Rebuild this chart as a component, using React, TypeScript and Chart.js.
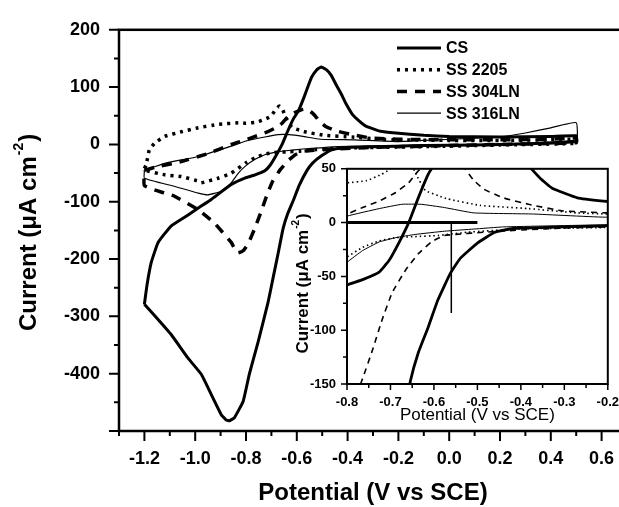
import { useEffect, useRef } from 'react';
import { Chart, registerables } from 'chart.js';
Chart.register(...registerables);

const FONT = "'Liberation Sans', Arial, Helvetica, sans-serif";

// ---- data (potential V vs SCE, current µA cm^-2), closed CV loops ----
const csLoop: [number, number][] = [
  [-1.2, -279], [-1.19, -246], [-1.173, -206], [-1.146, -171], [-1.094, -142], [-1.028, -123], [-0.988, -111],
  [-0.937, -96], [-0.858, -70], [-0.8, -58], [-0.764, -53], [-0.726, -46], [-0.703, -35], [-0.681, -19],
  [-0.658, 0], [-0.636, 23], [-0.613, 45], [-0.594, 58], [-0.571, 83], [-0.543, 116], [-0.522, 130],
  [-0.504, 135], [-0.485, 131], [-0.465, 121], [-0.445, 104], [-0.425, 88], [-0.405, 70], [-0.382, 53],
  [-0.355, 41], [-0.328, 32], [-0.27, 23], [-0.21, 20], [-0.1, 16], [0, 14], [0.2, 13], [0.4, 14], [0.5, 15],
  [0.5, 6], [0.3, 1], [0.1, -1], [-0.1, -2], [-0.21, -3], [-0.3, -4], [-0.418, -5.5], [-0.46, -9], [-0.5, -19],
  [-0.539, -33], [-0.562, -47], [-0.591, -72], [-0.613, -97], [-0.636, -121], [-0.654, -147], [-0.673, -189],
  [-0.693, -232], [-0.713, -275], [-0.752, -344], [-0.787, -401], [-0.811, -448], [-0.846, -477], [-0.865, -482],
  [-0.878, -481], [-0.898, -471], [-0.937, -436], [-0.976, -401], [-1.028, -373], [-1.094, -332], [-1.161, -298],
  [-1.2, -279],
];

const ss2205Loop: [number, number][] = [
  [-1.2, -42], [-1.193, -36], [-1.181, -10], [-1.16, 2], [-1.12, 14], [-1.055, 22], [-0.988, 29], [-0.91, 35],
  [-0.82, 38], [-0.8, 37], [-0.755, 39], [-0.72, 45], [-0.7, 50], [-0.685, 60], [-0.669, 67], [-0.655, 60],
  [-0.645, 48], [-0.62, 30], [-0.59, 25], [-0.568, 22], [-0.494, 16], [-0.382, 13], [-0.27, 9], [-0.2, 8],
  [0, 7], [0.2, 7], [0.4, 8], [0.5, 9],
  [0.5, 2], [0.2, -1], [0, -3], [-0.209, -4.6], [-0.411, -6], [-0.524, -9], [-0.591, -12], [-0.643, -13],
  [-0.688, -14], [-0.726, -17], [-0.764, -23], [-0.8, -32], [-0.858, -50], [-0.91, -59], [-0.976, -67],
  [-0.988, -64], [-1.055, -56], [-1.12, -53], [-1.2, -45], [-1.2, -42],
];

const ss304Loop: [number, number][] = [
  [-1.2, -45], [-1.16, -40], [-1.055, -30], [-0.95, -16], [-0.858, 0], [-0.8, 8], [-0.764, 14], [-0.726, 20],
  [-0.688, 28], [-0.658, 37], [-0.636, 48], [-0.61, 55], [-0.585, 60], [-0.563, 62], [-0.545, 57], [-0.53, 51],
  [-0.51, 40], [-0.485, 31], [-0.44, 23], [-0.382, 17], [-0.306, 11], [-0.2, 9], [0, 8], [0.2, 8], [0.4, 9], [0.5, 11],
  [0.5, 3], [0.2, 0], [0, -2], [-0.2, -4], [-0.3, -5], [-0.45, -8], [-0.576, -12], [-0.606, -18], [-0.636, -29],
  [-0.665, -44], [-0.696, -65], [-0.719, -90], [-0.741, -118], [-0.766, -147], [-0.79, -172], [-0.81, -185],
  [-0.831, -189], [-0.845, -182], [-0.858, -171], [-0.925, -137], [-0.988, -114], [-1.083, -90], [-1.12, -85],
  [-1.2, -72], [-1.2, -45],
];

const ss316Loop: [number, number][] = [
  [-1.2, -45], [-1.12, -33], [-0.988, -21], [-0.858, -3], [-0.8, 6], [-0.726, 13], [-0.674, 17], [-0.629, 17],
  [-0.576, 14], [-0.508, 9], [-0.373, 8], [-0.2, 5], [0, 9], [0.2, 13], [0.3, 20], [0.4, 29], [0.5, 38],
  [0.5, 4], [0.2, 0], [0, -1], [-0.2, -2], [-0.44, -4], [-0.508, -6], [-0.576, -8], [-0.643, -11], [-0.688, -14],
  [-0.726, -18], [-0.764, -26], [-0.8, -37], [-0.83, -50], [-0.86, -68], [-0.9, -82], [-0.95, -88], [-0.988, -85],
  [-1.083, -73], [-1.2, -59], [-1.2, -45],
];

// inset construction lines
const tafelHLine: [number, number][] = [[-0.8, 0], [-0.5, 0]];
const tafelVLine: [number, number][] = [[-0.56, 0], [-0.56, -84]];

const seriesLabels = ['CS', 'SS 2205', 'SS 304LN', 'SS 316LN'];

const mainXTicks = [-1.2, -1.0, -0.8, -0.6, -0.4, -0.2, 0.0, 0.2, 0.4, 0.6];
const mainYTicks = [-400, -300, -200, -100, 0, 100, 200];
const insetXTicks = [-0.8, -0.7, -0.6, -0.5, -0.4, -0.3, -0.2];
const insetYTicks = [-150, -100, -50, 0, 50];

const toXY = (a: [number, number][]) => a.map(([x, y]) => ({ x, y }));

function drawSupTitle(ctx: CanvasRenderingContext2D, text: string, sup: string, tail: string,
  cx: number, cy: number, size: number, weight: string, rotate: boolean) {
  ctx.save();
  ctx.translate(cx, cy);
  if (rotate) ctx.rotate(-Math.PI / 2);
  const f1 = `${weight} ${size}px ${FONT}`;
  const f2 = `${weight} ${Math.round(size * 0.6)}px ${FONT}`;
  ctx.font = f1;
  const w1 = ctx.measureText(text).width;
  const w3 = ctx.measureText(tail).width;
  ctx.font = f2;
  const w2 = ctx.measureText(sup).width;
  let x = -(w1 + w2 + w3) / 2;
  ctx.fillStyle = '#000';
  ctx.textBaseline = 'middle';
  ctx.textAlign = 'left';
  ctx.font = f1; ctx.fillText(text, x, 0); x += w1;
  ctx.font = f2; ctx.fillText(sup, x + 1, -size * 0.4); x += w2 + 2;
  ctx.font = f1; ctx.fillText(tail, x, 0);
  ctx.restore();
}

const mainFrame = {
  id: 'mainFrame',
  afterDraw(chart: any) {
    const { ctx, chartArea: a, scales } = chart;
    const xs = scales.x, ys = scales.y;
    ctx.save();
    ctx.strokeStyle = '#000';
    ctx.lineWidth = 2.5;
    ctx.strokeRect(a.left, a.top, a.right - a.left, a.bottom - a.top);
    ctx.lineWidth = 2;
    ctx.beginPath();
    for (let k = -13; k <= 7; k++) {
      const px = xs.getPixelForValue(k / 10);
      const len = k % 2 === 0 ? 10 : 5;
      ctx.moveTo(px, a.bottom); ctx.lineTo(px, a.bottom + len);
    }
    for (let k = -10; k <= 4; k++) {
      const py = ys.getPixelForValue(k * 50);
      const len = k % 2 === 0 ? 10 : 5;
      ctx.moveTo(a.left, py); ctx.lineTo(a.left - len, py);
    }
    ctx.stroke();
    // titles
    drawSupTitle(ctx, 'Current (\u03bcA cm', '-2', ')', 29, (a.top + a.bottom) / 2 + 3, 24, 'bold', true);
    ctx.fillStyle = '#000';
    ctx.font = `bold 24px ${FONT}`;
    ctx.textAlign = 'center';
    ctx.textBaseline = 'middle';
    ctx.fillText('Potential (V vs SCE)', (a.left + a.right) / 2, 493);
    // legend
    chart.data.datasets.forEach((ds: any, i: number) => {
      const y = 48 + i * 21.7;
      ctx.save();
      ctx.lineWidth = ds.borderWidth;
      ctx.setLineDash(ds.borderDash || []);
      ctx.beginPath();
      ctx.moveTo(397, y); ctx.lineTo(441, y);
      ctx.stroke();
      ctx.restore();
      ctx.font = `bold 16px ${FONT}`;
      ctx.textAlign = 'left';
      ctx.textBaseline = 'middle';
      ctx.fillText(ds.label, 446, y + 1);
    });
    ctx.restore();
  },
};

const insetFrame = {
  id: 'insetFrame',
  beforeDraw(chart: any) {
    const { ctx, chartArea: a } = chart;
    ctx.save();
    ctx.fillStyle = '#fff';
    ctx.fillRect(a.left, a.top, a.right - a.left, a.bottom - a.top);
    ctx.restore();
  },
  afterDraw(chart: any) {
    const { ctx, chartArea: a, scales } = chart;
    const xs = scales.x, ys = scales.y;
    ctx.save();
    ctx.strokeStyle = '#000';
    ctx.lineWidth = 2;
    ctx.strokeRect(a.left, a.top, a.right - a.left, a.bottom - a.top);
    ctx.lineWidth = 1.5;
    ctx.beginPath();
    for (let k = -16; k <= -4; k++) {
      const px = xs.getPixelForValue(k * 0.05);
      const len = k % 2 === 0 ? 6 : 4;
      ctx.moveTo(px, a.bottom); ctx.lineTo(px, a.bottom + len);
    }
    for (let k = -6; k <= 2; k++) {
      const py = ys.getPixelForValue(k * 25);
      const len = k % 2 === 0 ? 6 : 4;
      ctx.moveTo(a.left, py); ctx.lineTo(a.left - len, py);
    }
    ctx.stroke();
    drawSupTitle(ctx, 'Current (\u03bcA cm', '-2', ')', 23, (a.top + a.bottom) / 2 + 8, 17, 'bold', true);
    ctx.fillStyle = '#000';
    ctx.font = `17px ${FONT}`;
    ctx.textAlign = 'center';
    ctx.textBaseline = 'middle';
    ctx.fillText('Potential (V vs SCE)', (a.left + a.right) / 2, 265);
    ctx.restore();
  },
};

const lineDs = (label: string, data: [number, number][], width: number, dash: number[]) => ({
  label,
  data: toXY(data),
  showLine: true,
  pointRadius: 0,
  borderColor: '#000',
  backgroundColor: '#000',
  borderWidth: width,
  borderDash: dash,
  tension: 0.12,
  fill: false,
});

export default function App() {
  const mainRef = useRef<HTMLCanvasElement>(null);
  const insetRef = useRef<HTMLCanvasElement>(null);

  useEffect(() => {
    const loops = [csLoop, ss2205Loop, ss304Loop, ss316Loop];
    const mainStyles: [number, number[]][] = [[3, []], [3.5, [3, 5]], [3.5, [10, 8]], [1.2, []]];
    const insetStyles: [number, number[]][] = [[2.8, []], [1.6, [1.5, 3]], [1.6, [6, 5]], [1, []]];

    const tickFont = (size: number) => ({ family: FONT, size, weight: 'bold' as const });

    const main = new Chart(mainRef.current!, {
      type: 'scatter',
      data: {
        datasets: loops.map((d, i) => lineDs(seriesLabels[i], d, mainStyles[i][0], mainStyles[i][1])),
      },
      plugins: [mainFrame],
      options: {
        animation: false,
        responsive: false,
        devicePixelRatio: 1,
        events: [],
        layout: { padding: { top: 24, right: 13, left: 0, bottom: 0 } },
        plugins: { legend: { display: false }, tooltip: { enabled: false } },
        scales: {
          x: {
            type: 'linear', min: -1.3, max: 0.7,
            grid: { display: false, drawTicks: false },
            border: { display: false },
            ticks: {
              autoSkip: false, maxRotation: 0, padding: 17, color: '#000', font: tickFont(18),
              callback: (v: any) => Number(v).toFixed(1),
            },
            afterBuildTicks: (s: any) => { s.ticks = mainXTicks.map((v) => ({ value: v })); },
            afterFit: (s: any) => { s.height = 76; },
          },
          y: {
            type: 'linear', min: -500, max: 200,
            grid: { display: false, drawTicks: false },
            border: { display: false },
            ticks: {
              autoSkip: false, padding: 19, color: '#000', font: tickFont(18),
              callback: (v: any) => String(v),
            },
            afterBuildTicks: (s: any) => { s.ticks = mainYTicks.map((v) => ({ value: v })); },
            afterFit: (s: any) => { s.width = 119; },
          },
        },
      } as any,
    });

    const inset = new Chart(insetRef.current!, {
      type: 'scatter',
      data: {
        datasets: [
          ...loops.map((d, i) => lineDs(seriesLabels[i], d, insetStyles[i][0], insetStyles[i][1])),
          lineDs('', tafelHLine, 3, []),
          lineDs('', tafelVLine, 1.5, []),
        ],
      },
      plugins: [insetFrame],
      options: {
        animation: false,
        responsive: false,
        devicePixelRatio: 1,
        events: [],
        layout: { padding: { top: 17, right: 16, left: 0, bottom: 0 } },
        plugins: { legend: { display: false }, tooltip: { enabled: false } },
        scales: {
          x: {
            type: 'linear', min: -0.8, max: -0.2,
            grid: { display: false, drawTicks: false },
            border: { display: false },
            ticks: {
              autoSkip: false, maxRotation: 0, padding: 11, color: '#000', font: tickFont(13),
              callback: (v: any) => Number(v).toFixed(1),
            },
            afterBuildTicks: (s: any) => { s.ticks = insetXTicks.map((v) => ({ value: v })); },
            afterFit: (s: any) => { s.height = 41; },
          },
          y: {
            type: 'linear', min: -150, max: 50,
            grid: { display: false, drawTicks: false },
            border: { display: false },
            ticks: {
              autoSkip: false, padding: 11, color: '#000', font: tickFont(13),
              callback: (v: any) => String(v),
            },
            afterBuildTicks: (s: any) => { s.ticks = insetYTicks.map((v) => ({ value: v })); },
            afterFit: (s: any) => { s.width = 67; },
          },
        },
      } as any,
    });

    return () => { main.destroy(); inset.destroy(); };
  }, []);

  return (
    <div style={{ position: 'absolute', left: 0, top: 0, width: 619, height: 507, overflow: 'hidden', background: '#fff' }}>
      <canvas ref={mainRef} width={640} height={507} style={{ position: 'absolute', left: 0, top: 0, width: 640, height: 507 }} />
      <canvas ref={insetRef} width={350} height={275} style={{ position: 'absolute', left: 280, top: 150, width: 350, height: 275 }} />
    </div>
  );
}
